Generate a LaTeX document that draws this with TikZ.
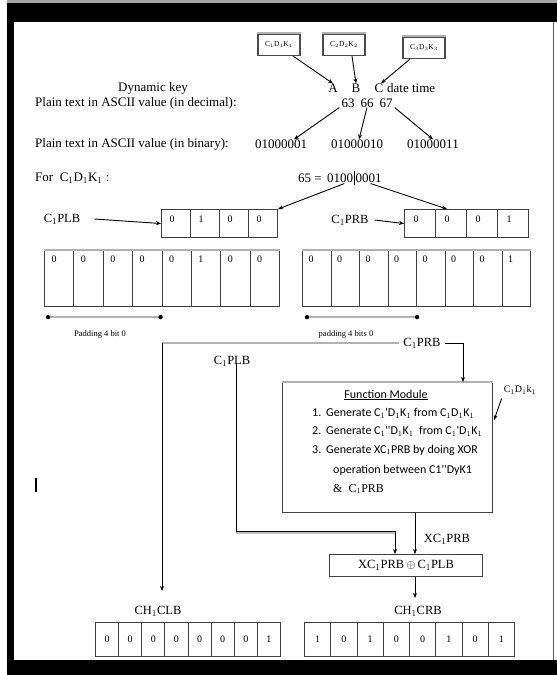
\documentclass[tikz,border=0pt]{standalone}
\usepackage{fontspec}
\setmainfont{Liberation Serif}
\newfontfamily\fmfont{Carlito}
\usetikzlibrary{arrows.meta,calc}
\begin{document}
\begin{tikzpicture}[x=1pt,y=-1pt,
  lbl/.style={inner sep=0pt, font=\fontsize{13}{15}\selectfont},
  mid/.style={inner sep=0pt, font=\fontsize{12.5}{14}\selectfont},
  tiny/.style={inner sep=0pt, font=\fontsize{8.5}{10}\selectfont},
  dig/.style={inner sep=0pt, font=\fontsize{10}{11}\selectfont},
  fm/.style={inner sep=0pt, anchor=west, font=\fmfont\fontsize{12}{14}\selectfont},
  kbox/.style={draw=black!70, line width=1.1pt, minimum width=42, minimum height=21, inner sep=0pt, font=\fontsize{7.5}{8}\selectfont},
  cell/.style={draw=black!75, line width=1.1pt, inner sep=0pt, anchor=north west},
  arr/.style={-{Stealth[length=5pt,width=4pt]}, line width=0.9pt},
  ln/.style={line width=0.9pt},
  shadow/.style={draw=black!30, line width=2.2pt}]
\useasboundingbox (0,0) rectangle (557,675);
% frame
\fill[black!35] (7,0) rectangle (557,3);
\fill[black] (7,3) rectangle (557,22);
\fill[black] (7,3) rectangle (14,675);
\fill[black] (7,660) rectangle (557,675);
\draw[black!65, line width=1pt] (553,22) -- (553,660);
% key boxes
\node[kbox] (k1) at (279,45) {C$_1$D$_1$K$_1$};
\node[kbox] (k2) at (344,45) {C$_2$D$_2$K$_2$};
\node[kbox] (k3) at (424,48) {C$_3$D$_3$K$_3$};
\foreach \k in {k1,k2,k3} \draw[shadow, line width=1.6pt] ($(\k.north west)+(0,-1)$) -- ($(\k.north east)+(0,-1)$);
% header texts
\node[lbl] (dk) at (153,88) {Dynamic key};
\node[lbl, anchor=west] (dec) at (35,103) {Plain text in ASCII value (in decimal):};
\node[lbl] (A) at (333,88) {A};
\node[lbl] (B) at (356,88) {B};
\node[lbl] (C) at (379,88) {C};
\node[lbl, anchor=west] (dt) at (387,88) {date time};
\node[lbl] (n63) at (348,103) {63};
\node[lbl] (n66) at (367,103) {66};
\node[lbl] (n67) at (386,103) {67};
\draw[arr] ($(k1.south)+(14,0)$) -- (A.north);
\draw[arr] ($(k2.south)+(8,0)$) -- (B.north);
\draw[arr] ($(k3.south)+(-14,0)$) -- ($(C.north)+(2,0)$);
% binary row
\node[lbl, anchor=west] (bin) at (35,144) {Plain text in ASCII value (in binary):};
\node[lbl] (b1) at (281,144) {01000001};
\node[lbl] (b2) at (357,144) {01000010};
\node[lbl] (b3) at (433,144) {01000011};
\draw[arr] ($(n63.south west)+(-2,0)$) -- ($(b1.north)+(13,0)$);
\draw[arr] (n66.south) -- ($(b2.north)+(2,0)$);
\draw[arr] ($(n67.south east)+(2,0)$) -- (b3.north);
% For C1D1K1
\node[lbl, anchor=west] (for) at (35,178) {For\ \ C$_1$D$_1$K$_1$ :};
\node[lbl, anchor=east] (n65) at (322,178) {65 =};
\node[lbl, anchor=west] (h1) at (327,178) {0100};
\node[lbl, anchor=west] (h2) at (355.5,178) {0001};
\draw[line width=0.9pt] (h1.north east) ++(1.2,-2) coordinate (bt) -- ($(h1.south east)+(1.2,2)$) coordinate (bb);
% C1PLB / C1PRB 4-bit boxes
\node[mid] (plbl) at (62,219) {C$_1$PLB};
\node[mid] (prbl) at (350,220) {C$_1$PRB};
\foreach \b [count=\i from 0] in {0,1,0,0} {
  \node[cell, minimum width=29, minimum height=28] (plb\i) at (161+29*\i,209) {};
  \node[dig] (plbd\i) at ($(plb\i.north west)+(11,10)$) {\b};
}
\foreach \b [count=\i from 0] in {0,0,0,1} {
  \node[cell, minimum width=31, minimum height=28] (prb\i) at (404+31*\i,209) {};
  \node[dig] (prbd\i) at ($(prb\i.north west)+(12,10)$) {\b};
}
\draw[arr] (plbl.east) ++(14,0) -- (plb0.west);
\draw[arr] (prbl.east) ++(6,0) -- (prb0.west);
\draw[arr] ($(h1.south)+(4,1)$) -- (plb3.north east);
\draw[arr] ($(h2.south)+(2,1)$) -- ($(prb1.north)+(-4,0)$);
% 8-bit padded rows
\foreach \b [count=\i from 0] in {0,0,0,0,0,1,0,0} {
  \node[cell, minimum width=29.375, minimum height=56] (lw\i) at (44+29.375*\i,250) {};
  \node[dig] (lwd\i) at ($(lw\i.north west)+(10,9)$) {\b};
}
\foreach \b [count=\i from 0] in {0,0,0,0,0,0,0,1} {
  \node[cell, minimum width=28.5, minimum height=56] (rw\i) at (302+28.5*\i,250) {};
  \node[dig] (rwd\i) at ($(rw\i.north west)+(9,9)$) {\b};
}
\draw[shadow] (lw0.north west) -- (lw7.north east);
\draw[shadow] (rw0.north west) -- (rw7.north east);
\coordinate (pa1) at ($(lw0.south west)+(4,10)$);
\coordinate (pa2) at ($(lw3.south east)+(-2,10)$);
\coordinate (pb1) at ($(rw0.south west)+(5,10)$);
\coordinate (pb2) at ($(rw3.south east)+(0,10)$);
\draw[line width=2.6pt, black!30] (pa1) -- (pa2);
\draw[line width=2.6pt, black!30] (pb1) -- (pb2);
\foreach \p in {pa1,pa2,pb1,pb2} \fill[black] (\p) circle (2.2pt);
\node[tiny] (pad1) at (100,334) {Padding 4 bit 0};
\node[tiny] (pad2) at (346,334) {padding 4 bits 0};
% lower structure
\node[mid] (prb2) at (422,343) {C$_1$PRB};
\node[mid] (plb2) at (232,361) {C$_1$PLB};
\node[draw=black!75, line width=1.1pt, minimum width=210, minimum height=130, inner sep=0pt, anchor=north west] (fmod) at (282,382) {};
\draw[shadow] (fmod.north west) -- (fmod.north east);
\node[inner sep=0pt, font=\fmfont\fontsize{12}{14}\selectfont] (fmh) at (386,395) {\underline{Function Module}};
\node[fm] (f1n) at (312,413) {1.};
\node[fm] (f1) at (326,413) {Generate C$_1$'D$_1$K$_1$ from C$_1$D$_1$K$_1$};
\node[fm] (f2n) at (312,431) {2.};
\node[fm] (f2) at (326,431) {Generate C$_1$''D$_1$K$_1$\ \ from C$_1$'D$_1$K$_1$};
\node[fm] (f3n) at (312,450) {3.};
\node[fm] (f3) at (326,450) {Generate XC$_1$PRB by doing XOR};
\node[fm] (f4) at (333,470) {operation between C1''DyK1};
\node[inner sep=0pt, anchor=west, font=\fontsize{12}{14}\selectfont] (f5) at (333,489) {\&\ \ C$_1$PRB};
\node[inner sep=0pt, font=\fontsize{10}{12}\selectfont] (cdk) at (520,390) {C$_1$D$_1$k$_1$};
\draw[arr] ($(cdk.south west)+(-2,4)$) -- ($(fmod.north east)+(1,38)$);
\draw[ln, -{Stealth[length=5pt,width=4pt]}] (prb2.east) ++(4,0) -- (463,343) -- (fmod.north -| 463,0);
\draw[line width=2.4pt, black!30] (prb2.west) ++(-4,0) -- (162,343) coordinate (lt);
\node[draw=black!75, line width=1.1pt, minimum width=153, minimum height=22, inner sep=0pt, anchor=north west] (xorb) at (329,554) {};
\node[mid] (xort) at (xorb.center) {XC$_1$PRB$\,\oplus\,$C$_1$PLB};
\node[mid] (xcl) at (447,539) {XC$_1$PRB};
\coordinate (cor) at (236,531);
\draw[line width=2pt, black!25] ($(cor)+(0,1.5)$) -- (395,532.5);
\draw[ln, -{Stealth[length=5pt,width=4pt]}] ($(plb2.south)+(4,-3)$) -- (cor) -- (395,531) -- (xorb.north -| 395,0);
\draw[arr] (fmod.south -| 415,0) -- (xorb.north -| 415,0);
\node[mid] (clb) at (158,611) {CH$_1$CLB};
\node[mid] (crb) at (418,611) {CH$_1$CRB};
\draw[arr] (lt) -- (162,591);
\draw[arr] (xorb.south -| 415,0) -- (415,598);
% bottom rows
\foreach \b [count=\i from 0] in {0,0,0,0,0,0,0,1} {
  \node[cell, minimum width=23.125, minimum height=34] (cl\i) at (95+23.125*\i,622) {};
  \node[dig] (cld\i) at (cl\i.center) {\b};
}
\foreach \b [count=\i from 0] in {1,0,1,0,0,1,0,1} {
  \node[cell, minimum width=26.25, minimum height=34] (cr\i) at (304+26.25*\i,622) {};
  \node[dig] (crd\i) at (cr\i.center) {\b};
}
% stray mark
\draw[line width=1.5pt] (36,478) -- (36,492);
\end{tikzpicture}
\end{document}
